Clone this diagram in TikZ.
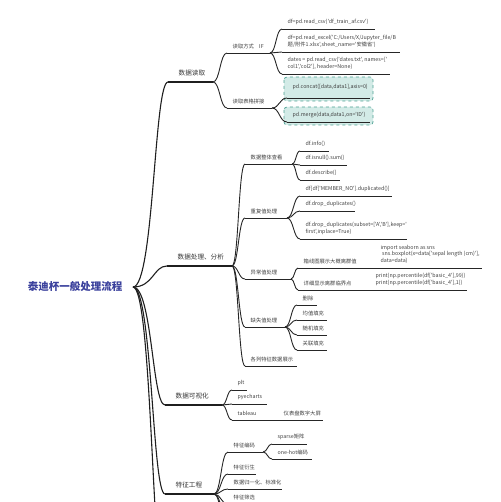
\documentclass[tikz,border=0pt]{standalone}
\usepackage{fontspec}
\usepackage{tikz}
\usetikzlibrary{calc}
\newfontfamily\cjk{Noto Sans CJK SC}
\definecolor{rootblue}{HTML}{3A409C}
\definecolor{hlfill}{HTML}{D3EBE7}
\definecolor{hlline}{HTML}{4FA294}

% underlined topic: name, x-left, x-right, y, text
\newcommand{\mainnode}[5]{%
  \coordinate (#1-l) at (#2,#4);
  \coordinate (#1-r) at (#3,#4);
  \draw[mline] (#1-l) -- (#1-r);
  \node[mtext] (#1) at (#2+10,#4-5) {#5};
}
\newcommand{\leafnode}[5]{%
  \coordinate (#1-l) at (#2,#4);
  \coordinate (#1-r) at (#3,#4);
  \draw[lline] (#1-l) -- (#1-r);
  \node[ltext] (#1) at (#2+5,#4-3.5) {#5};
}

\begin{document}
\begin{tikzpicture}[x=1pt,y=-1pt,
  mline/.style={draw=black!88,line width=1.1pt},
  lline/.style={draw=black!85,line width=0.9pt},
  branch/.style={to path={let \p1=(\tikztostart),\p2=(\tikztotarget) in
    .. controls ({\x1+#1*(\x2-\x1)},\y1) and ({\x1+#1*(\x2-\x1)},\y2) .. (\tikztotarget)}},
  branch/.default=0.5,
  mtext/.style={anchor=south west,inner sep=0.5pt,text=black!80,font=\cjk\fontsize{6.6}{7.5}\selectfont},
  ltext/.style={anchor=south west,inner sep=0.5pt,align=left,text=black!75,font=\cjk\fontsize{5.3}{6.8}\selectfont},
  roottext/.style={inner sep=1pt,text=rootblue,font=\cjk\bfseries\fontsize{10.5}{12}\selectfont},
  hlbox/.style={draw=hlline,fill=hlfill,dashed,line width=0.7pt,rounded corners=3pt}]
\useasboundingbox (0,0) rectangle (500,502);
\clip (0,0) rectangle (500,502);

% root
\node[roottext] (root) at (75,287) {泰迪杯一般处理流程};
\coordinate (root-r) at (133,287);
\mainnode{rd}{168}{213}{82}{数据读取}
\mainnode{proc}{167}{232}{266}{数据处理、分析}
\mainnode{vis}{165}{222}{405}{数据可视化}
\mainnode{feat}{165}{214}{494}{特征工程}
\coordinate (more-l) at (165,590);
\foreach \c in {rd,proc,vis,feat,more}
  \draw[mline] (root-r) to[branch=0.6] (\c-l);

% 数据读取
\leafnode{way}{227}{270}{53}{读取方式　IF}
\leafnode{join}{227}{272}{108}{读取表格拼接}
\leafnode{csv}{282}{375}{29}{df=pd.read\_csv('df\_train\_af.csv')}
\leafnode{xls}{282}{400}{52}{df=pd.read\_excel('C:/Users/X/Jupyter\_file/B\\题/附件1.xlsx',sheet\_name='安徽省')}
\leafnode{dates}{282}{390}{74}{dates = pd.read\_csv('dates.txt', names=['\\col1','col2'], header=None)}
\draw[hlbox] (284,77) rectangle (373,101);
\draw[hlbox] (284,107) rectangle (373,125);
\leafnode{cat}{287}{370}{98}{}
\leafnode{mrg}{287}{370}{122}{}
\node[ltext,anchor=west] (cattext) at (292,87) {pd.concat([data,data1],axis=0)};
\node[ltext,anchor=west] (mrgtext) at (292,115) {pd.merge(data,data1,on='ID')};
\foreach \c in {way,join} \draw[lline] (rd-r) to[branch] (\c-l);
\foreach \c in {csv,xls,dates} \draw[lline] (way-r) to[branch] (\c-l);
\foreach \c in {cat,mrg} \draw[lline] (join-r) to[branch] (\c-l);

% 数据处理、分析
\leafnode{look}{245}{292}{164}{数据整体查看}
\leafnode{dup}{245}{287}{218}{重复值处理}
\leafnode{out}{245}{291}{279}{异常值处理}
\leafnode{miss}{245}{285}{327}{缺失值处理}
\leafnode{cols}{245}{297}{366}{各列特征数据展示}
\foreach \c in {look,dup,out,miss,cols} \draw[lline] (proc-r) to[branch] (\c-l);

\leafnode{info}{300}{329}{151}{df.info()}
\leafnode{isn}{300}{347}{165}{df.isnull().sum()}
\leafnode{desc}{300}{340}{180}{df.describe()}
\foreach \c in {info,isn,desc} \draw[lline] (look-r) to[branch] (\c-l);

\leafnode{dupa}{300}{392}{196}{df[df['MEMBER\_NO'].duplicated()]}
\leafnode{dupb}{300}{355}{211}{df.drop\_duplicates()}
\leafnode{dupc}{300}{407}{239}{df.drop\_duplicates(subset=['A','B'],keep='\\first',inplace=True)}
\foreach \c in {dupa,dupb,dupc} \draw[lline] (dup-r) to[branch] (\c-l);

\leafnode{box}{298}{375}{268}{箱线图展示大概离群值}
\leafnode{thr}{298}{370}{290}{详细显示离群临界点}
\leafnode{sns}{375}{482}{268}{import seaborn as sns\\\hspace*{1.5pt}sns.boxplot(x=data['sepal length (cm)'],\\data=data)}
\leafnode{pct}{370}{467}{290}{print(np.percentile(df['basic\_4'],99))\\print(np.percentile(df['basic\_4'],1))}
\foreach \c in {box,thr} \draw[lline] (out-r) to[branch] (\c-l);
\draw[lline] (box-r) -- (sns-l);
\draw[lline] (thr-r) -- (pct-l);

\foreach \nm/\xr/\y/\txt in {m1/317/305/删除,m2/327/320/均值填充,m3/327/335/随机填充,m4/327/350/关联填充}{
  \leafnode{\nm}{297}{\xr}{\y}{\txt}
  \draw[lline] (miss-r) to[branch] (\nm-l);
}

% 数据可视化
\leafnode{plt}{232}{247}{390}{plt}
\leafnode{pye}{232}{267}{404}{pyecharts}
\leafnode{tab}{232}{270}{420}{tableau}
\leafnode{scr}{278}{323}{420}{仪表盘数字大屏}
\foreach \c in {plt,pye,tab} \draw[lline] (vis-r) to[branch] (\c-l);
\draw[lline] (tab-r) -- (scr-l);

% 特征工程
\leafnode{enc}{228}{263}{452}{特征编码}
\leafnode{der}{228}{256}{474}{特征衍生}
\leafnode{norm}{228}{282}{489}{数据归一化、标准化}
\leafnode{sel}{228}{262}{504}{特征筛选}
\coordinate (f5-l) at (228,518);
\coordinate (f6-l) at (228,532);
\foreach \c in {enc,der,norm,sel,f5,f6} \draw[lline] (feat-r) to[branch] (\c-l);
\leafnode{sp}{272}{307}{444}{sparse矩阵}
\leafnode{oh}{272}{312}{459}{one-hot编码}
\foreach \c in {sp,oh} \draw[lline] (enc-r) to[branch] (\c-l);
\end{tikzpicture}
\end{document}
